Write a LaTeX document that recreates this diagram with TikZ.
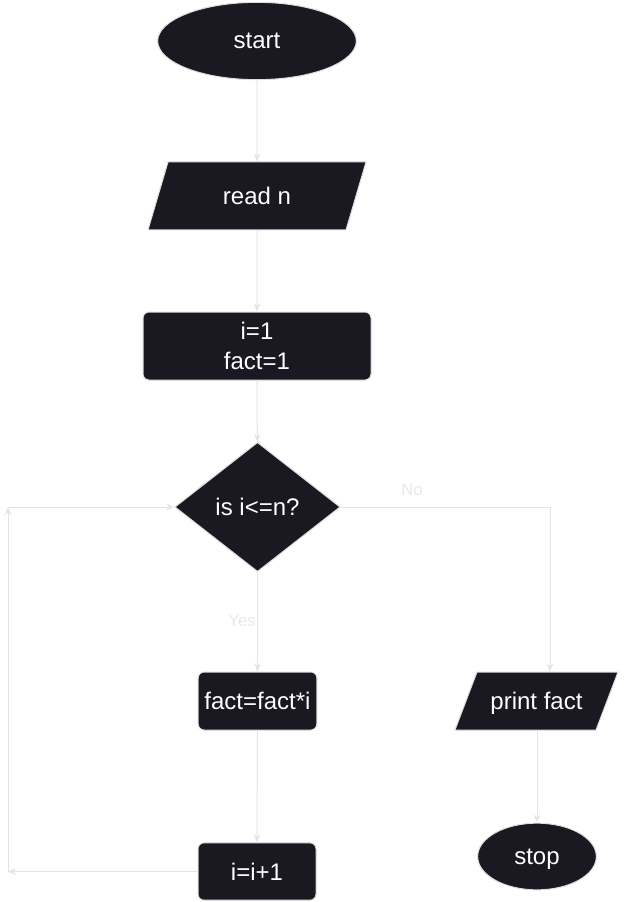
\documentclass[tikz,border=0pt]{standalone}
\usepackage{fontspec}
\setmainfont{Liberation Sans}
\usetikzlibrary{shapes.geometric,arrows.meta}

\tikzset{every picture/.style={line width=0.75pt}}
\tikzset{
  fcbase/.style={draw={rgb, 255:red, 222; green, 222; blue, 222 }, line width=0.75pt, fill={rgb, 255:red, 26; green, 24; blue, 32 }, text=white, font=\fontsize{18}{22.5}\selectfont, inner sep=0pt, align=center},
  termnode/.style={fcbase, ellipse},
  ionode/.style={fcbase, trapezium, align=flush center, inner xsep=0pt, text height=13pt, text depth=0pt},
  procnode/.style={fcbase, rectangle, rounded corners=4.5pt},
  decnode/.style={fcbase, diamond},
  flowline/.style={draw={rgb, 255:red, 228; green, 228; blue, 228 }, line width=0.75pt, -{Stealth[length=6pt,width=5pt]}},
  branchlbl/.style={text={rgb, 255:red, 232; green, 232; blue, 232 }, font=\fontsize{12.5}{15}\selectfont, inner sep=0.75pt}
}

\begin{document}
\begin{tikzpicture}[x=0.75pt,y=0.75pt,yscale=-1,xscale=1]
\useasboundingbox (0,0) rectangle (624,902);

%Shape: Ellipse
\node[termnode, minimum width=149pt, minimum height=58pt] (start) at (257,41) {start};
%Shape: Parallelogram
\node[ionode, trapezium left angle=73.6, trapezium right angle=106.4, text width=133.5pt, inner ysep=19pt] (read) at (257,196) {read n};
%Shape: Rectangle
\node[procnode, minimum width=171pt, minimum height=51pt] (init) at (257,346) {i=1\\fact=1};
%Shape: Diamond
\node[decnode, minimum width=124pt, minimum height=97pt] (dec) at (257.5,507) {is i<=n?};
%Shape: Rectangle
\node[procnode, minimum width=89pt, minimum height=43.5pt] (upd) at (257.5,701) {fact=fact*i};
%Shape: Rectangle
\node[procnode, minimum width=88.5pt, minimum height=43pt] (inc) at (257,871.5) {i=i+1};
%Shape: Parallelogram
\node[ionode, trapezium left angle=69.2, trapezium right angle=110.8, text width=89.25pt, inner ysep=15.25pt] (prn) at (536.5,701) {print fact};
%Shape: Ellipse
\node[termnode, text depth=0pt, minimum width=89pt, minimum height=50pt] (stop) at (537,856.5) {stop};

\coordinate (nocorner) at (550,507);
\coordinate (lpb) at (8,871.5);
\coordinate (lpt) at (8,507);

%Straight Lines
\draw[flowline] (start) -- (read);
\draw[flowline] (read) -- (init);
\draw[flowline] (init) -- (dec);
\draw[flowline] (dec.east) -- (nocorner) -- (nocorner |- prn.north);
\draw[flowline] (dec) -- (upd);
\draw[flowline] (upd) -- (inc);
\draw[flowline] (inc.west) -- (lpb);
\draw[flowline] (lpb) -- (lpt);
\draw[flowline] (lpt) -- (dec.west);
\draw[flowline] (prn.south -| stop.north) -- (stop.north);

% Text Node
\node[branchlbl] (nolbl) at (412,490) {No};
% Text Node
\node[branchlbl] (yeslbl) at (242,621) {Yes};

\end{tikzpicture}
\end{document}
